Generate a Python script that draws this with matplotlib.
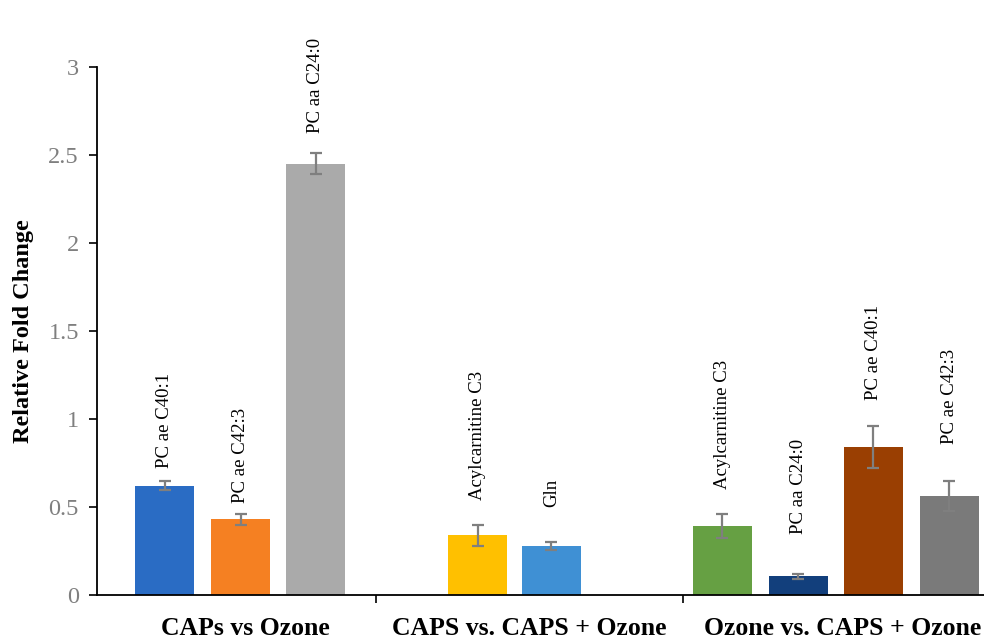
import matplotlib.pyplot as plt

groups = ['CAPs vs Ozone', 'CAPS vs. CAPS + Ozone', 'Ozone vs. CAPS + Ozone']

names = [['PC ae C40:1', 'PC ae C42:3', 'PC aa C24:0'],
         ['Acylcarnitine C3', 'Gln'],
         ['Acylcarnitine C3', 'PC aa C24:0', 'PC ae C40:1', 'PC ae C42:3']]
fold = [[0.62, 0.43, 2.45],
        [0.34, 0.28],
        [0.39, 0.105, 0.84, 0.56]]
err = [[0.025, 0.03, 0.06],
       [0.06, 0.022],
       [0.068, 0.012, 0.12, 0.085]]

colors = [['#2a6cc4', '#f58022', '#aaaaaa'],
          ['#ffc000', '#3f90d4'],
          ['#66a043', '#123f7c', '#9a3f02', '#7a7a7a']]

# bar centres (axis units), group edges and group title centres
pos = [[68, 144, 219], [381, 455], [626, 702, 777, 853]]
bounds = [0, 279, 587, 888]
title_x = [149, 433, 746]
label_pad = [[13, 11, 20], [25, 35], [25, 40, 26, 37]]

plt.rcParams['font.family'] = ['Liberation Serif', 'DejaVu Serif']

fig = plt.figure(figsize=(9.84, 6.41), dpi=100)
ax = fig.add_axes([0.0986, 0.0718, 0.9014, 0.8237])

for g in range(len(groups)):
    for i in range(len(fold[g])):
        ax.bar(pos[g][i], fold[g][i], 59, color=colors[g][i], zorder=2)
        ax.errorbar(pos[g][i], fold[g][i], yerr=err[g][i], fmt='none',
                    ecolor='#7f7f7f', elinewidth=1.6, capsize=4.5,
                    capthick=1.6, zorder=3)
        ax.annotate(names[g][i], (pos[g][i], fold[g][i] + err[g][i]),
                    xytext=(0, label_pad[g][i] * 0.72), textcoords='offset points',
                    rotation=90, ha='center', va='bottom', fontsize=13.5)

ax.set_xlim(bounds[0], bounds[-1])
ax.set_ylim(0, 3)
ax.set_yticks([0, 0.5, 1, 1.5, 2, 2.5, 3])
ax.set_yticklabels(['0', '0.5', '1', '1.5', '2', '2.5', '3'])
ax.tick_params(axis='y', labelcolor='#7f7f7f', labelsize=17.5, length=6,
               width=1.2, direction='out', pad=7, color='black')

# group separators on the category axis
ax.set_xticks(bounds[1:-1])
ax.set_xticklabels([])
ax.tick_params(axis='x', length=6, width=1.2, direction='out', color='black')
for g in range(len(groups)):
    ax.annotate(groups[g], (title_x[g], 0),
                xytext=(0, -24), textcoords='offset points',
                ha='center', va='center', fontsize=18.5, fontweight='bold',
                annotation_clip=False)

ax.spines['top'].set_visible(False)
ax.spines['right'].set_visible(False)
ax.spines['left'].set_linewidth(1.3)
ax.spines['bottom'].set_linewidth(1.3)

ax.set_ylabel('Relative Fold Change', fontsize=17.5, fontweight='bold', labelpad=10)

fig.savefig('out.png', dpi=100)
